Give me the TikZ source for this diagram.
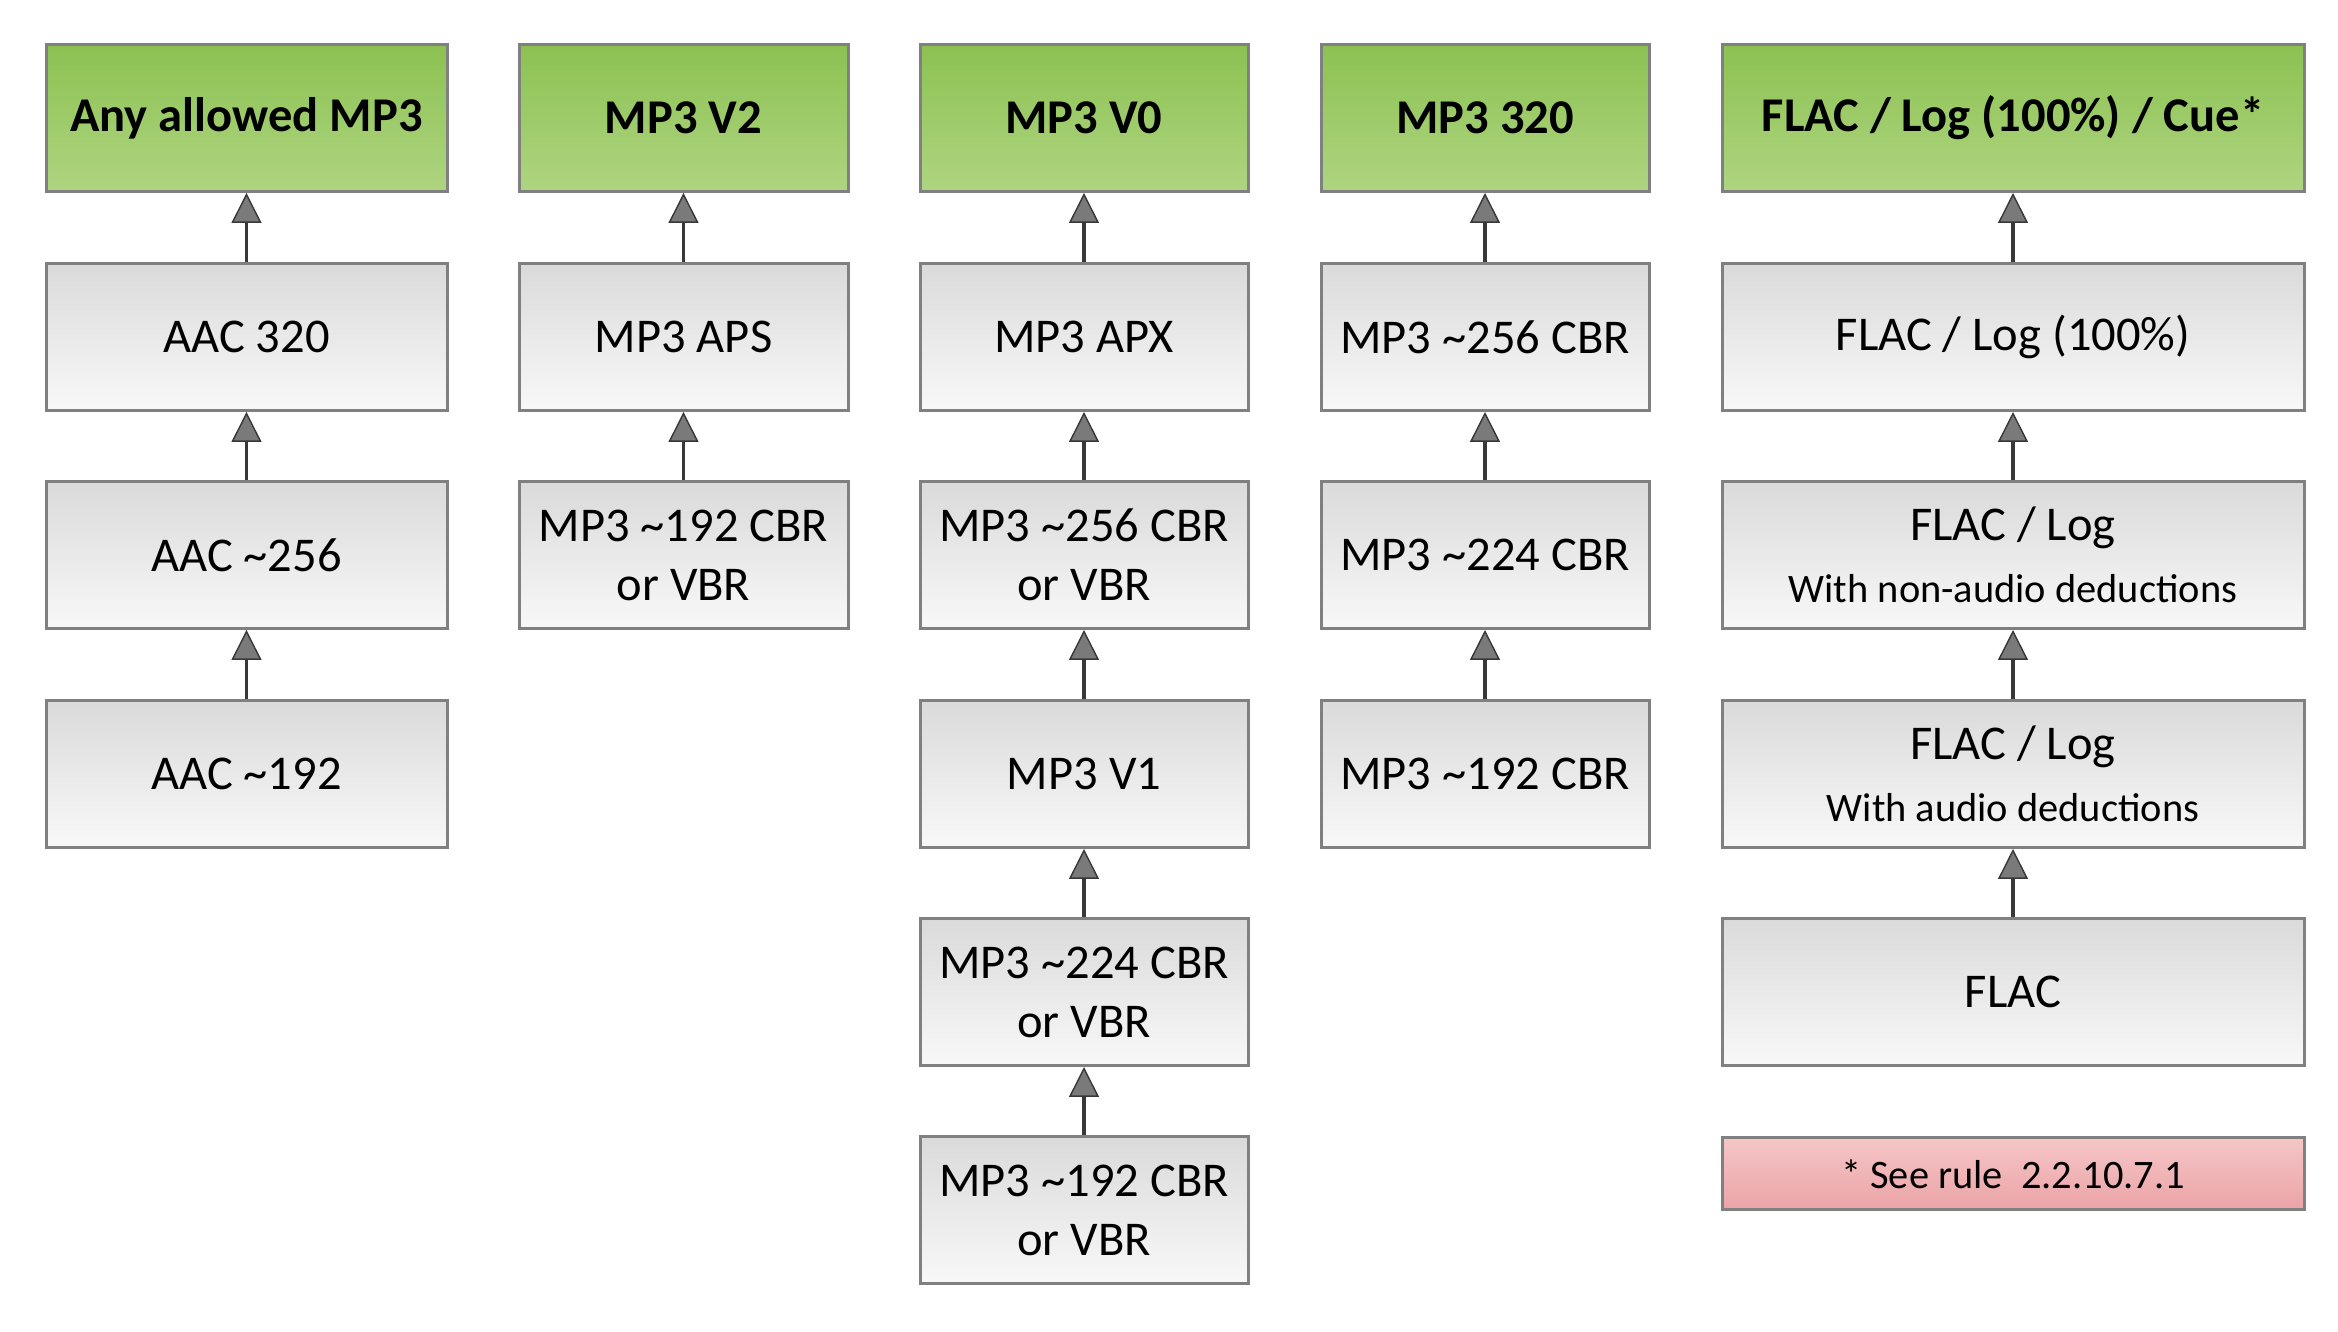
\documentclass[tikz,border=0pt]{standalone}
\usepackage{fontspec}
\setmainfont{Carlito}
\usetikzlibrary{arrows.meta}
\definecolor{boxline}{HTML}{808080}
\definecolor{greentop}{HTML}{8CC152}
\definecolor{greenbot}{HTML}{AED580}
\definecolor{greytop}{HTML}{DADADA}
\definecolor{greybot}{HTML}{F8F8F8}
\definecolor{redtop}{HTML}{F5C6C7}
\definecolor{redbot}{HTML}{EBA3A6}
\definecolor{arrline}{HTML}{383838}
\definecolor{arrfill}{HTML}{7A7A7A}
\tikzset{
  box/.style={draw=boxline, line width=0.3mm, minimum height=1.47cm, inner sep=0pt,
    align=center, top color=greytop, bottom color=greybot,
    font=\fontsize{13.8}{16.8}\selectfont},
  head/.style={box, top color=greentop, bottom color=greenbot, font=\fontsize{13.8}{16.8}\selectfont\bfseries},
  note/.style={box, minimum height=0.72cm, top color=redtop, bottom color=redbot, font=\fontsize{11.5}{14}\selectfont},
  wa/.style={minimum width=4.01cm}, wb/.style={minimum width=3.29cm},
  wc/.style={minimum width=3.28cm}, wd/.style={minimum width=3.28cm},
  we/.style={minimum width=5.82cm},
  arr/.style={draw=arrline, line width=0.35mm,
    -{Triangle[width=8.5pt,length=8.5pt,fill=arrfill,line width=0.4pt]}},
}
\newcommand{\sub}[1]{{\fontsize{11.5}{13}\selectfont #1}}
\begin{document}
\begin{tikzpicture}
  \useasboundingbox (0,0) rectangle (23.38,13.32);
  % column a
  \node[head,wa] (a1) at (2.465,12.14) {Any allowed MP3};
  \node[box,wa]  (a2) at (2.465,9.95) {AAC 320};
  \node[box,wa]  (a3) at (2.465,7.77) {AAC \textasciitilde256};
  \node[box,wa]  (a4) at (2.465,5.58) {AAC \textasciitilde192};
  % column b
  \node[head,wb] (b1) at (6.835,12.14) {MP3 V2};
  \node[box,wb]  (b2) at (6.835,9.95) {MP3 APS};
  \node[box,wb]  (b3) at (6.835,7.77) {MP3 \textasciitilde192 CBR\\or VBR};
  % column c
  \node[head,wc] (c1) at (10.84,12.14) {MP3 V0};
  \node[box,wc]  (c2) at (10.84,9.95) {MP3 APX};
  \node[box,wc]  (c3) at (10.84,7.77) {MP3 \textasciitilde256 CBR\\or VBR};
  \node[box,wc]  (c4) at (10.84,5.58) {MP3 V1};
  \node[box,wc]  (c5) at (10.84,3.40) {MP3 \textasciitilde224 CBR\\or VBR};
  \node[box,wc]  (c6) at (10.84,1.22) {MP3 \textasciitilde192 CBR\\or VBR};
  % column d
  \node[head,wd] (d1) at (14.85,12.14) {MP3 320};
  \node[box,wd]  (d2) at (14.85,9.95) {MP3 \textasciitilde256 CBR};
  \node[box,wd]  (d3) at (14.85,7.77) {MP3 \textasciitilde224 CBR};
  \node[box,wd]  (d4) at (14.85,5.58) {MP3 \textasciitilde192 CBR};
  % column e
  \node[head,we] (e1) at (20.13,12.14) {FLAC / Log (100\%) / Cue*};
  \node[box,we]  (e2) at (20.13,9.95) {FLAC / Log (100\%)};
  \node[box,we]  (e3) at (20.13,7.77) {FLAC / Log\\[1pt]\sub{With non-audio deductions}};
  \node[box,we]  (e4) at (20.13,5.58) {FLAC / Log\\[1pt]\sub{With audio deductions}};
  \node[box,we]  (e5) at (20.13,3.40) {FLAC};
  \node[note,we] (n)  at (20.13,1.58) {* See rule~~2.2.10.7.1};
  \foreach \u/\v in {a2/a1,a3/a2,a4/a3,b2/b1,b3/b2,c2/c1,c3/c2,c4/c3,c5/c4,c6/c5,
      d2/d1,d3/d2,d4/d3,e2/e1,e3/e2,e4/e3,e5/e4} { \draw[arr] (\u) -- (\v); }
\end{tikzpicture}
\end{document}
